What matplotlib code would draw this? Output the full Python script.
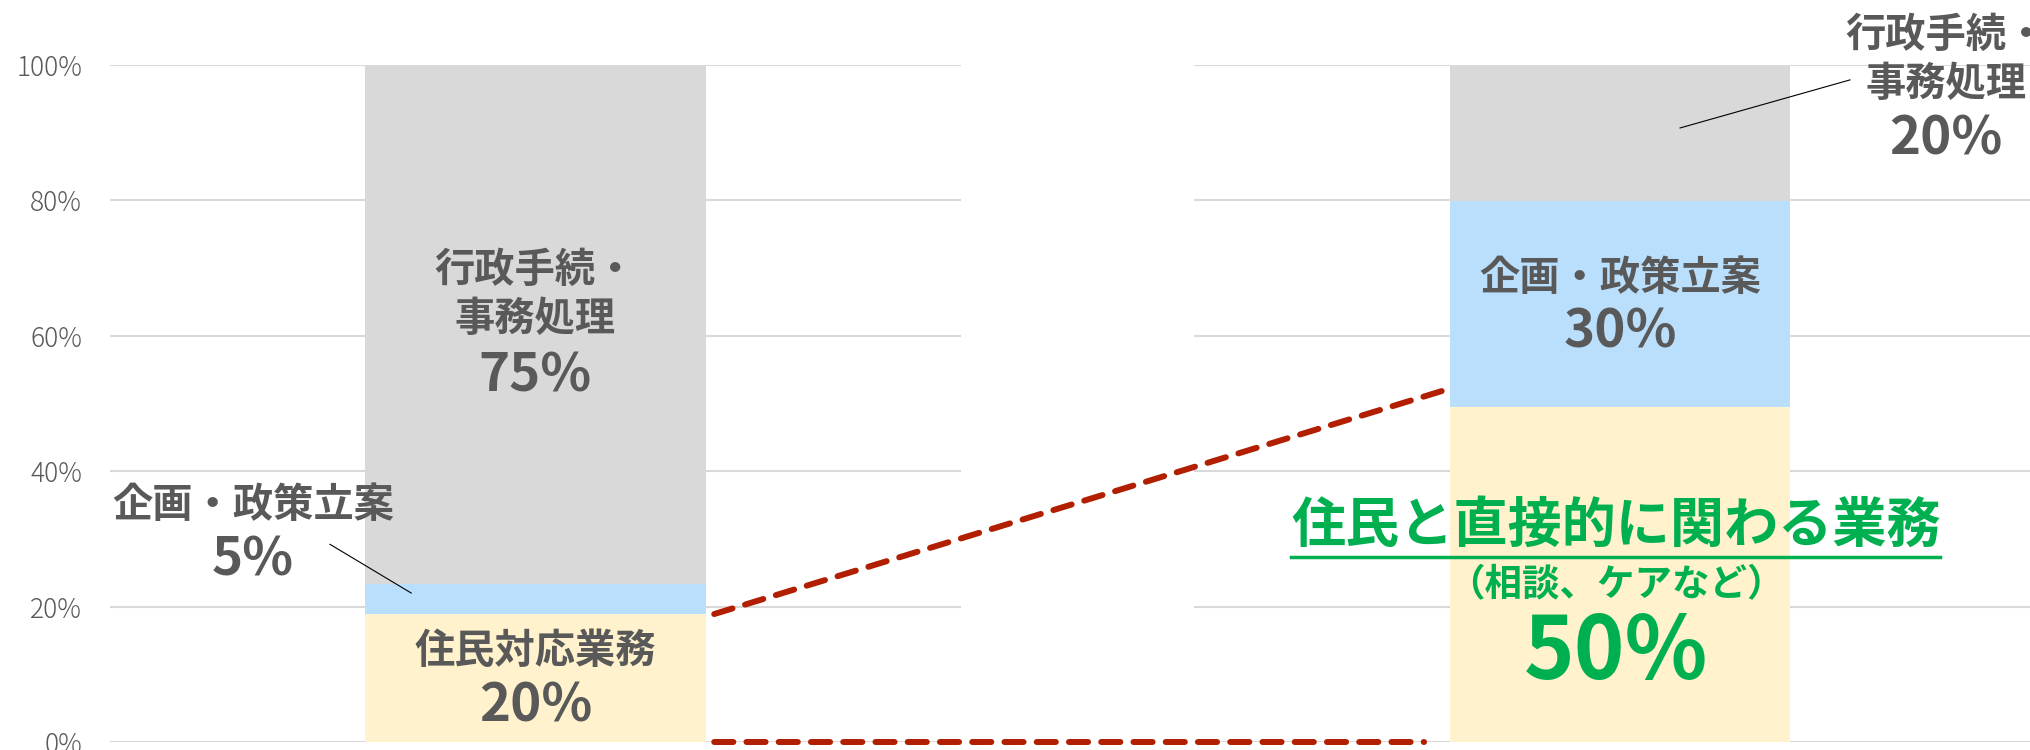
import numpy as np
import matplotlib.pyplot as plt
from matplotlib.patches import ConnectionPatch
from matplotlib.lines import Line2D

plt.rcParams['font.family'] = ['Noto Sans CJK JP', 'DejaVu Sans']

# data: share of work (%) before / after, as drawn in the reference
segments = ['住民対応業務', '企画・政策立案', '行政手続・事務処理']
before = [18.9, 4.4, 76.7]
after = [49.5, 30.4, 20.1]
before_labels = ['20%', '5%', '75%']
after_labels = ['50%', '30%', '20%']
# dashed connector levels (left bar, right bar)
link_top = [18.9, 52.0]
link_bottom = [0, 0]
colors = ['#FFF2CC', '#B9DFFD', '#D9D9D9']
yticks = [0, 20, 40, 60, 80, 100]

text_c = '#595959'
green = '#00B050'
red = '#B11E00'

W, H = 2031, 750
fig = plt.figure(figsize=(W / 100, H / 100), dpi=100)

# two side-by-side panels (pixel positions of the reference)
ax1 = fig.add_axes([110 / W, 8 / H, 851 / W, 677 / H])
ax2 = fig.add_axes([1194 / W, 8 / H, 852 / W, 677 / H])

for ax, vals in [(ax1, before), (ax2, after)]:
    bottom = 0
    for v, c in zip(vals, colors):
        ax.bar(0, v, 0.8, bottom=bottom, color=c, zorder=2)
        bottom += v
    ax.set_xlim(-1, 1)
    ax.set_ylim(0, 100)
    ax.set_yticks(yticks)
    ax.yaxis.grid(True, color='#D9D9D9', linewidth=1.5)
    ax.set_axisbelow(True)
    ax.set_xticks([])
    for s in ax.spines.values():
        s.set_visible(False)
    ax.tick_params(axis='y', length=0, pad=20)

ax1.set_yticklabels([f'{t}%' for t in yticks], color=text_c, fontsize=19,
                    fontweight='light')
ax2.set_yticklabels([])

lbl = dict(ha='center', va='center', color=text_c, fontweight='bold')

# left bar labels
ax1.text(0, 66.0, '行政手続・\n事務処理', fontsize=29, linespacing=1.25, **lbl)
ax1.text(0, 54.1, before_labels[2], fontsize=38, **lbl)
ax1.text(0, 13.4, segments[0], fontsize=29, **lbl)
ax1.text(0, 5.3, before_labels[0], fontsize=38, **lbl)
ax1.text(-0.664, 35.0, segments[1], fontsize=29, **lbl)
ax1.text(-0.664, 26.9, before_labels[1], fontsize=38, **lbl)
ax1.plot([-0.483, -0.292], [29.2, 22.0], color='black', linewidth=0.8,
         clip_on=False, zorder=3)

# right bar labels
ax2.text(0.765, 100.8, '行政手続・\n事務処理', fontsize=29, linespacing=1.25, **lbl)
ax2.text(0.765, 89.1, after_labels[2], fontsize=38, **lbl)
ax2.plot([0.54, 0.141], [97.8, 90.7], color='black', linewidth=0.8,
         clip_on=False, zorder=3)
ax2.text(0, 68.4, segments[1], fontsize=29, **lbl)
ax2.text(0, 60.6, after_labels[1], fontsize=38, **lbl)

g = dict(ha='center', va='center', color=green, fontweight='bold')
title = ax2.text(-0.01, 31.8, '住民と直接的に関わる業務', fontsize=39, **g)
ax2.text(-0.01, 23.3, '（相談、ケアなど）', fontsize=27, **g)
ax2.text(-0.01, 13.0, after_labels[0], fontsize=62, **g)

# underline of the green title
fig.canvas.draw()
bb = title.get_window_extent(fig.canvas.get_renderer())
uy = bb.y0 - 3
fig.add_artist(Line2D([bb.x0 / W, bb.x1 / W], [uy / H, uy / H],
                      color=green, linewidth=2.5))

# dashed connectors between the two bars
dash = dict(color=red, linewidth=4.3, linestyle=(0, (3.2, 2.2)), zorder=5)
fig.add_artist(ConnectionPatch((0.42, link_top[0]), (-0.41, link_top[1]),
                               coordsA=ax1.transData, coordsB=ax2.transData,
                               **dash))
fig.add_artist(ConnectionPatch((0.42, link_bottom[0]), (-0.46, link_bottom[1]),
                               coordsA=ax1.transData, coordsB=ax2.transData,
                               **dash))

fig.savefig('out.png', dpi=100)
